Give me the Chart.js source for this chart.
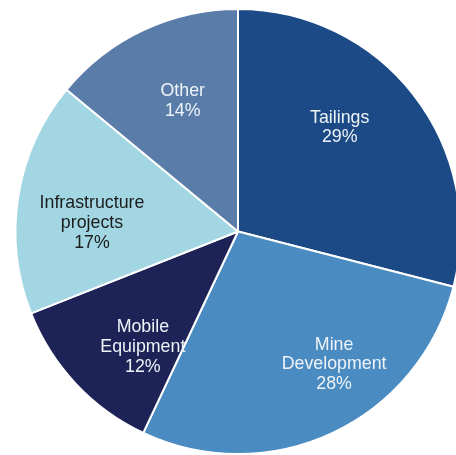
<!DOCTYPE html>
<html>
<head>
<meta charset="utf-8">
<script src="https://cdn.jsdelivr.net/npm/chart.js@4"></script>
<style>
  html, body { margin: 0; padding: 0; background: #fff; overflow: hidden; }
  #wrap { position: absolute; left: 0; top: 0; width: 476px; height: 455px; }
</style>
</head>
<body>
<div id="wrap"><canvas id="pie"></canvas></div>
<script>
const categories = ['Tailings', 'Mine Development', 'Mobile Equipment', 'Infrastructure projects', 'Other'];
const labelLines = [['Tailings'], ['Mine', 'Development'], ['Mobile', 'Equipment'], ['Infrastructure', 'projects'], ['Other']];
const shares = [29, 28, 12, 17, 14];

const colors = ['#1b4a86', '#4a8bc1', '#1e2357', '#a2d6e2', '#5a7ca8'];
const textColors = ['#eef3f8', '#eef3f8', '#eef3f8', '#1c1c1c', '#eef3f8'];

// where each label sits inside its slice: fraction along the sweep, fraction of radius
const labelPlace = [[0.42, 0.66], [0.39, 0.73], [0.34, 0.667], [0.42, 0.658], [0.55, 0.644]];

const sliceLabels = {
  id: 'sliceLabels',
  afterDatasetsDraw(chart) {
    const ctx = chart.ctx;
    const arcs = chart.getDatasetMeta(0).data;
    ctx.save();
    ctx.font = '17.8px "Liberation Sans", Arial, sans-serif';
    ctx.textAlign = 'center';
    ctx.textBaseline = 'middle';
    arcs.forEach((arc, i) => {
      const p = arc.getProps(['x', 'y', 'startAngle', 'endAngle', 'outerRadius'], true);
      const [f, k] = labelPlace[i];
      const a = p.startAngle + f * (p.endAngle - p.startAngle);
      const cx = p.x + Math.cos(a) * p.outerRadius * k;
      const cy = p.y + Math.sin(a) * p.outerRadius * k + 2;
      const lines = labelLines[i].concat(shares[i] + '%');
      const lh = 19.8;
      ctx.fillStyle = textColors[i];
      lines.forEach((t, j) => {
        ctx.fillText(t, cx, cy + (j - (lines.length - 1) / 2) * lh);
      });
    });
    ctx.restore();
  }
};

new Chart(document.getElementById('pie'), {
  type: 'pie',
  data: {
    labels: categories,
    datasets: [{
      data: shares,
      backgroundColor: colors,
      borderColor: '#ffffff',
      borderWidth: 2
    }]
  },
  options: {
    responsive: true,
    maintainAspectRatio: false,
    animation: false,
    layout: { padding: { left: 14, right: 14, top: 8, bottom: 0 } },
    plugins: {
      legend: { display: false },
      tooltip: { enabled: false }
    }
  },
  plugins: [sliceLabels]
});
</script>
</body>
</html>
